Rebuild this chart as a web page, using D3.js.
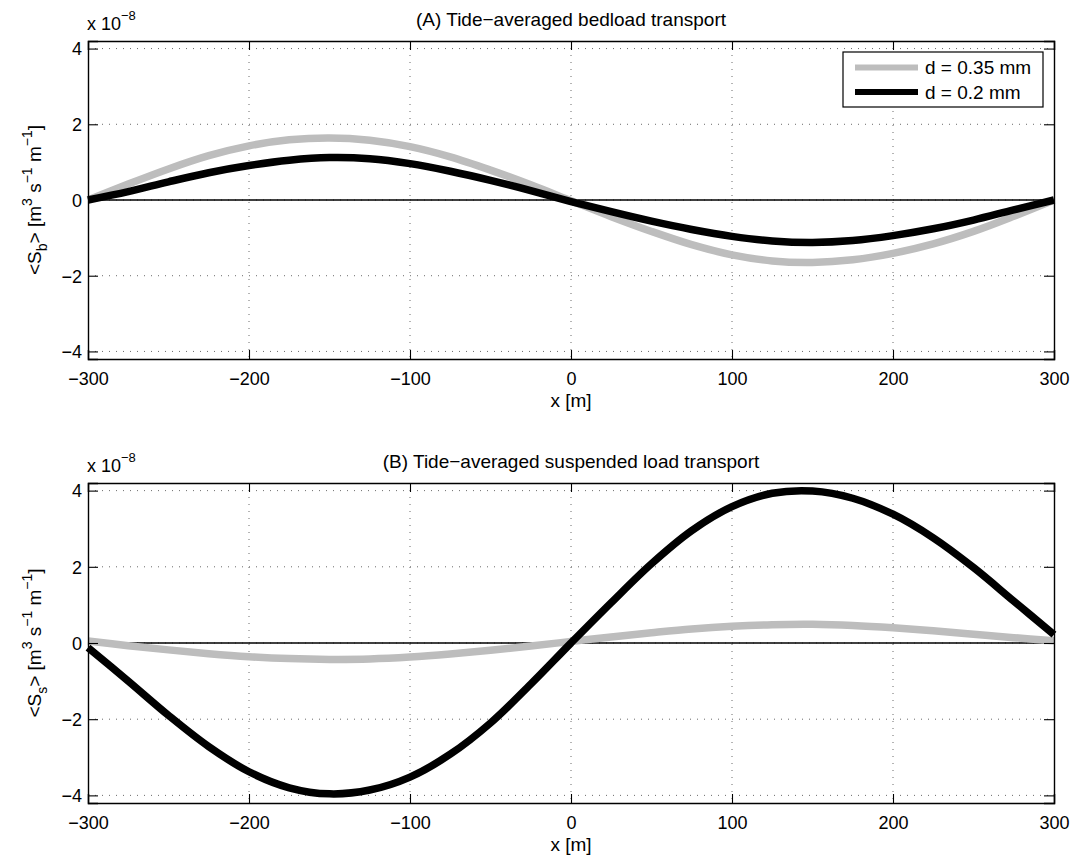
<!DOCTYPE html>
<html>
<head>
<meta charset="utf-8">
<script src="https://cdn.jsdelivr.net/npm/d3@7"></script>
<style>
  html, body { margin: 0; padding: 0; background: #fff; }
  svg { display: block; font-family: "Liberation Sans", Arial, Helvetica, sans-serif; }
</style>
</head>
<body>
<svg id="chart" width="1084" height="856"></svg>
<script>
// Along-channel positions [m]
const xPos = [-300, -275, -250, -225, -200, -175, -150, -125, -100, -75, -50, -25, 0,
              25, 50, 75, 100, 125, 150, 175, 200, 225, 250, 275, 300];

// (A) tide-averaged bedload transport, units of 1e-8 m^3 s^-1 m^-1
const bedCoarse = [0.00, 0.42, 0.82, 1.17, 1.43, 1.59, 1.64, 1.58, 1.41, 1.14, 0.79, 0.40, -0.02,
                   -0.44, -0.83, -1.18, -1.45, -1.61, -1.65, -1.58, -1.41, -1.16, -0.83, -0.43, 0.00];
const bedFine   = [0.00, 0.22, 0.48, 0.72, 0.91, 1.05, 1.12, 1.09, 0.96, 0.76, 0.52, 0.25, -0.04,
                   -0.31, -0.56, -0.78, -0.96, -1.08, -1.12, -1.07, -0.94, -0.76, -0.53, -0.26, 0.00];

// (B) tide-averaged suspended load transport, units of 1e-8 m^3 s^-1 m^-1
const susCoarse = [0.05, -0.07, -0.18, -0.28, -0.36, -0.41, -0.43, -0.42, -0.37, -0.29, -0.19, -0.08, 0.04,
                   0.16, 0.27, 0.37, 0.44, 0.48, 0.49, 0.46, 0.40, 0.32, 0.23, 0.14, 0.06];
const susFine   = [-0.12, -1.00, -1.90, -2.72, -3.38, -3.80, -3.96, -3.86, -3.52, -2.92, -2.10, -1.08, 0.00,
                   1.06, 2.08, 2.95, 3.58, 3.93, 3.99, 3.80, 3.38, 2.76, 1.98, 1.10, 0.22];

const seriesLabels = ["d = 0.35 mm", "d = 0.2 mm"];
const seriesColors = ["#bdbdbd", "#000000"];

const xTicks = [-300, -200, -100, 0, 100, 200, 300];
const yTicks = [-4, -2, 0, 2, 4];
const xDomain = [-300, 300];
const yDomain = [-4.2, 4.2];

const panelTitles = ["(A) Tide\u2212averaged bedload transport",
                     "(B) Tide\u2212averaged suspended load transport"];
const ySubs = ["b", "s"];

const svg = d3.select("#chart");
const left = 88, right = 1054;
const panels = [
  { top: 41,  bottom: 359, title: panelTitles[0], sub: ySubs[0], data: [bedCoarse, bedFine],  legend: true },
  { top: 483, bottom: 803, title: panelTitles[1], sub: ySubs[1], data: [susCoarse, susFine], legend: false }
];

const fmt = v => (v < 0 ? "\u2212" + Math.abs(v) : String(v));

panels.forEach(p => {
  const x = d3.scaleLinear().domain(xDomain).range([left, right]);
  const y = d3.scaleLinear().domain(yDomain).range([p.bottom, p.top]);
  const g = svg.append("g");

  // dotted grid
  g.append("g").selectAll("line").data(xTicks.slice(1, -1)).join("line")
    .attr("x1", d => x(d)).attr("x2", d => x(d))
    .attr("y1", p.top).attr("y2", p.bottom)
    .attr("stroke", "#444").attr("stroke-width", 0.8).attr("stroke-dasharray", "1,6");
  g.append("g").selectAll("line").data(yTicks).join("line")
    .attr("x1", left).attr("x2", right)
    .attr("y1", d => y(d)).attr("y2", d => y(d))
    .attr("stroke", "#444").attr("stroke-width", 0.8).attr("stroke-dasharray", "1,6");

  // zero reference line
  g.append("line")
    .attr("x1", x(xDomain[0])).attr("x2", x(xDomain[1]))
    .attr("y1", y(0)).attr("y2", y(0))
    .attr("stroke", "#000").attr("stroke-width", 1.6);

  // curves
  const line = d3.line()
    .x((d, i) => x(xPos[i]))
    .y(d => y(d))
    .curve(d3.curveCatmullRom.alpha(0.5));
  p.data.forEach((vals, k) => {
    g.append("path")
      .attr("d", line(vals))
      .attr("fill", "none")
      .attr("stroke", seriesColors[k])
      .attr("stroke-width", 7.5);
  });

  // axes frame and inward ticks
  const axB = d3.axisBottom(x).tickValues(xTicks).tickSize(-9).tickFormat(fmt).tickPadding(13);
  const axT = d3.axisTop(x).tickValues(xTicks).tickSize(-9).tickFormat("");
  const axL = d3.axisLeft(y).tickValues(yTicks).tickSize(-10).tickFormat(fmt).tickPadding(6);
  const axR = d3.axisRight(y).tickValues(yTicks).tickSize(-10).tickFormat("");

  const gB = g.append("g").attr("transform", `translate(0,${p.bottom})`).call(axB);
  const gT = g.append("g").attr("transform", `translate(0,${p.top})`).call(axT);
  const gL = g.append("g").attr("transform", `translate(${left},0)`).call(axL);
  const gR = g.append("g").attr("transform", `translate(${right},0)`).call(axR);
  [gB, gT, gL, gR].forEach(a => {
    a.select(".domain").attr("stroke", "#000").attr("stroke-width", 1.4);
    a.selectAll(".tick line").attr("stroke", "#000").attr("stroke-width", 1.1);
    a.selectAll(".tick text").attr("fill", "#000").style("font-size", "18px")
      .style("font-family", "'Liberation Sans', Arial, sans-serif");
  });
  gL.selectAll(".tick text").attr("dy", "0.35em");

  // title
  svg.append("text")
    .attr("x", (left + right) / 2).attr("y", p.top - 15)
    .attr("text-anchor", "middle").style("font-size", "19px").attr("fill", "#000")
    .text(p.title);

  // exponent multiplier
  const mult = svg.append("text")
    .attr("x", left - 1).attr("y", p.top - 11)
    .style("font-size", "18px").attr("fill", "#000");
  mult.append("tspan").text("x 10");
  mult.append("tspan").attr("dy", -10).style("font-size", "13px").text("\u22128");

  // x label
  svg.append("text")
    .attr("x", (left + right) / 2).attr("y", p.bottom + 48)
    .attr("text-anchor", "middle").style("font-size", "19px").attr("fill", "#000")
    .text("x [m]");

  // y label with sub/superscripts
  const cy = (p.top + p.bottom) / 2;
  const yl = svg.append("text")
    .attr("transform", `translate(41,${cy}) rotate(-90)`)
    .attr("text-anchor", "middle").style("font-size", "19px").attr("fill", "#000");
  yl.append("tspan").text("<S");
  yl.append("tspan").attr("dy", 6).style("font-size", "14px").text(p.sub);
  yl.append("tspan").attr("dy", -6).text("> [m");
  yl.append("tspan").attr("dy", -9).style("font-size", "14px").text("3");
  yl.append("tspan").attr("dy", 9).text(" s");
  yl.append("tspan").attr("dy", -9).style("font-size", "14px").text("\u22121");
  yl.append("tspan").attr("dy", 9).text(" m");
  yl.append("tspan").attr("dy", -9).style("font-size", "14px").text("\u22121");
  yl.append("tspan").attr("dy", 9).text("]");

  // legend
  if (p.legend) {
    const lg = svg.append("g");
    lg.append("rect")
      .attr("x", 843).attr("y", 52).attr("width", 200).attr("height", 55)
      .attr("fill", "#fff").attr("stroke", "#000").attr("stroke-width", 1.2);
    seriesLabels.forEach((lab, k) => {
      const ly = 67.5 + k * 24.5;
      lg.append("line")
        .attr("x1", 855).attr("x2", 918).attr("y1", ly).attr("y2", ly)
        .attr("stroke", seriesColors[k]).attr("stroke-width", 6);
      lg.append("text")
        .attr("x", 925).attr("y", ly).attr("dy", "0.35em")
        .style("font-size", "19px").attr("fill", "#000").text(lab);
    });
  }
});
</script>
</body>
</html>
